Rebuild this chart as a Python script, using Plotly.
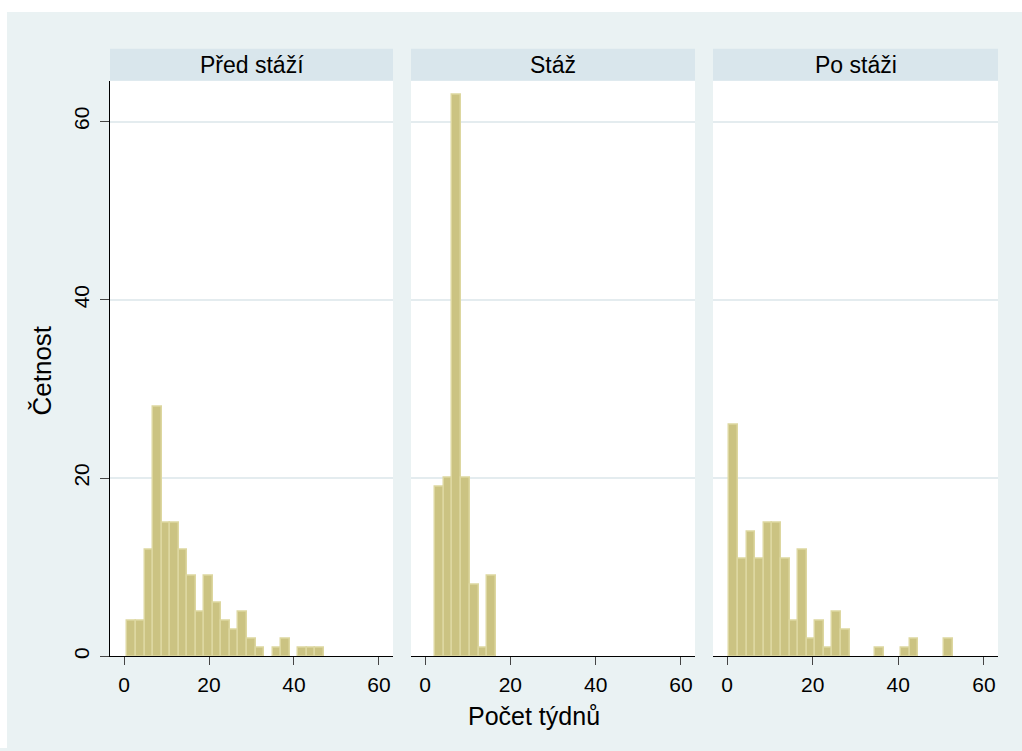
import plotly.graph_objects as go

# ---- data ----
panel_titles = ["Před stáží", "Stáž", "Po stáži"]
counts_pred = [4, 4, 12, 28, 15, 15, 12, 9, 5, 9, 6, 4, 3, 5, 2, 1, 0, 1, 2, 0, 1, 1, 1]
counts_staz = [19, 20, 63, 20, 8, 1, 9]
counts_po = [26, 11, 14, 11, 15, 15, 11, 4, 12, 2, 4, 1, 5, 3, 0, 0, 0, 1, 0, 0, 1, 2, 0, 0, 0, 2]
bin_start = [0.8, 2.35, 0.55]
bin_width = [2.01, 2.04, 2.006]
x_ticks = [0, 20, 40, 60]
y_ticks = [0, 20, 40, 60]
x_title = "Počet týdnů"
y_title = "Četnost"

W, H = 1022, 751
FONT = "Liberation Sans, Arial, sans-serif"
BG = "#EAF2F3"
STRIP = "#D9E6EC"
GRID = "#E4ECEF"
FILL = "#CBC382"
EDGE = "#DDD7A0"


def fx(p):
    return p / W


def fy(p):
    return 1 - p / H


panel_px = [(110, 393), (411, 695), (713, 998)]
plot_top, plot_bot, strip_top = 81, 659, 49

fig = go.Figure()
all_counts = [counts_pred, counts_staz, counts_po]
for i, counts in enumerate(all_counts):
    xs, ys = [], []
    for k, c in enumerate(counts):
        if c > 0:
            xs.append(bin_start[i] + (k + 0.5) * bin_width[i])
            ys.append(c)
    sfx = "" if i == 0 else str(i + 1)
    fig.add_trace(go.Bar(
        x=xs, y=ys, width=bin_width[i],
        marker=dict(color=FILL, line=dict(color=EDGE, width=1.5)),
        xaxis="x" + sfx, yaxis="y" + sfx, showlegend=False, hoverinfo="x+y",
    ))

layout = dict(
    width=W, height=H, margin=dict(l=0, r=0, t=0, b=0),
    paper_bgcolor=BG, plot_bgcolor="white",
    font=dict(family=FONT, color="black", size=21),
    bargap=0, showlegend=False,
)
shapes = [
    dict(type="rect", xref="paper", yref="paper", x0=0, x1=1, y0=fy(12), y1=1,
         fillcolor="white", line=dict(width=0), layer="below"),
    dict(type="rect", xref="paper", yref="paper", x0=0, x1=fx(7), y0=0, y1=1,
         fillcolor="white", line=dict(width=0), layer="below"),
]
annotations = []
for i, (x0, x1) in enumerate(panel_px):
    sfx = "" if i == 0 else str(i + 1)
    layout["xaxis" + sfx] = dict(
        domain=[fx(x0), fx(x1)], anchor="y" + sfx, range=[-3.3, 63.3],
        tickvals=x_ticks, ticks="outside", ticklen=8, tickwidth=1, tickcolor="#444",
        showline=True, linecolor="black", linewidth=1, showgrid=False, zeroline=False,
        ticklabelstandoff=1,
        tickfont=dict(size=21, family=FONT, color="black"), fixedrange=True,
    )
    layout["yaxis" + sfx] = dict(
        domain=[fy(plot_bot), fy(plot_top)], anchor="x" + sfx, range=[0, 64.58],
        tickvals=y_ticks, showgrid=True, gridcolor=GRID, gridwidth=2, zeroline=False,
        showline=(i == 0), linecolor="black", linewidth=1,
        ticks="outside" if i == 0 else "", ticklen=9, tickwidth=1, tickcolor="#444",
        showticklabels=(i == 0), tickangle=-90, ticklabelstandoff=3,
        tickfont=dict(size=21, family=FONT, color="black"), fixedrange=True,
    )
    shapes.append(dict(type="rect", xref="paper", yref="paper",
                       x0=fx(x0), x1=fx(x1), y0=fy(plot_top), y1=fy(strip_top),
                       fillcolor=STRIP, line=dict(width=0)))
    annotations.append(dict(text=panel_titles[i], xref="paper", yref="paper",
                            x=fx((x0 + x1) / 2), y=fy((plot_top + strip_top) / 2),
                            xanchor="center", yanchor="middle", showarrow=False,
                            font=dict(size=23, family=FONT, color="black")))

annotations.append(dict(text=x_title, xref="paper", yref="paper", x=fx(534), y=fy(719),
                        xanchor="center", yanchor="middle", showarrow=False,
                        font=dict(size=25, family=FONT, color="black")))
annotations.append(dict(text=y_title, xref="paper", yref="paper", x=fx(42), y=fy(372),
                        xanchor="center", yanchor="middle", showarrow=False, textangle=-90,
                        font=dict(size=26, family=FONT, color="black")))
layout["shapes"] = shapes
layout["annotations"] = annotations
fig.update_layout(**layout)
fig.write_html("out.html")
